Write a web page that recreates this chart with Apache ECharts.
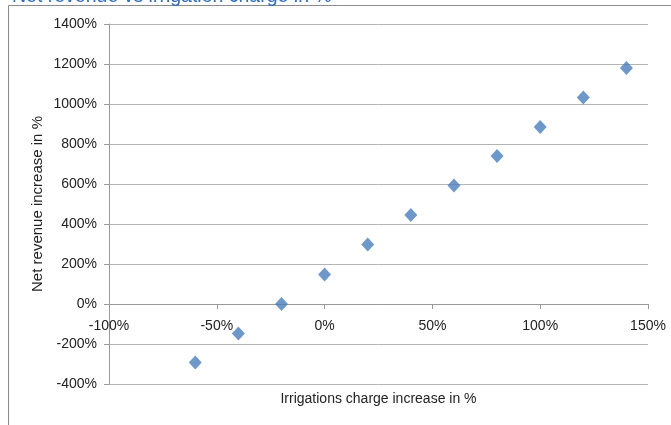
<!DOCTYPE html>
<html>
<head>
<meta charset="utf-8">
<script src="https://cdn.jsdelivr.net/npm/echarts@6/dist/echarts.min.js"></script>
<style>html,body{margin:0;padding:0;background:#fff;}#c{width:671px;height:425px;}</style>
</head>
<body>
<div id="c"></div>
<script>
const chargeIncrease = [-60, -40, -20, 0, 20, 40, 60, 80, 100, 120, 140];
const revenueIncrease = [-293, -147, 0, 148, 297, 445, 592, 740, 885, 1033, 1180];
const titleText = 'Net revenue vs irrigation charge in %';
const xAxisName = 'Irrigations charge increase in %';
const yAxisName = 'Net revenue increase in %';

const FONT = 'Liberation Sans';
const chart = echarts.init(document.getElementById('c'), null, {renderer: 'canvas'});
chart.setOption({
  animation: false,
  backgroundColor: '#ffffff',
  graphic: [
    {type: 'rect', shape: {x: 8.5, y: 5.5, width: 700, height: 500}, style: {fill: 'none', stroke: '#8c8c8c', lineWidth: 1}, z: 0},
    {type: 'text', x: 12, y: 6.5, style: {text: titleText, fill: '#2F6EBA', font: '19.5px "Liberation Sans"', verticalAlign: 'bottom'}, z: 10}
  ],
  grid: {left: 109, right: 23, top: 24, bottom: 41, containLabel: false, outerBoundsMode: 'none'},
  xAxis: {
    type: 'value', min: -100, max: 150, interval: 50,
    position: 'bottom', offset: -80,
    name: xAxisName, nameLocation: 'middle', nameGap: 88, nameMoveOverlap: false,
    nameTextStyle: {fontFamily: FONT, fontSize: 14, color: '#222'},
    axisLine: {show: true, onZero: false, lineStyle: {color: '#9a9a9a'}},
    axisTick: {show: true, length: 5, lineStyle: {color: '#9a9a9a'}},
    axisLabel: {formatter: v => v + '%', fontFamily: FONT, fontSize: 14, color: '#222', margin: 15},
    splitLine: {show: false}
  },
  yAxis: {
    type: 'value', min: -400, max: 1400, interval: 200,
    name: yAxisName, nameLocation: 'middle', nameGap: 64, nameRotate: 90, nameMoveOverlap: false,
    nameTextStyle: {fontFamily: FONT, fontSize: 15, color: '#222'},
    axisLine: {show: true, onZero: false, lineStyle: {color: '#9a9a9a'}},
    axisTick: {show: true, length: 5, lineStyle: {color: '#9a9a9a'}},
    axisLabel: {formatter: v => v + '%', fontFamily: FONT, fontSize: 14, color: '#222', margin: 12},
    splitLine: {show: true, lineStyle: {color: '#b4b4b4', width: 1}}
  },
  series: [{
    type: 'scatter',
    data: chargeIncrease.map((x, i) => [x, revenueIncrease[i]]),
    symbol: 'diamond',
    symbolSize: [13, 14],
    itemStyle: {color: '#4A7EBB'}
  }]
});
</script>
</body>
</html>
